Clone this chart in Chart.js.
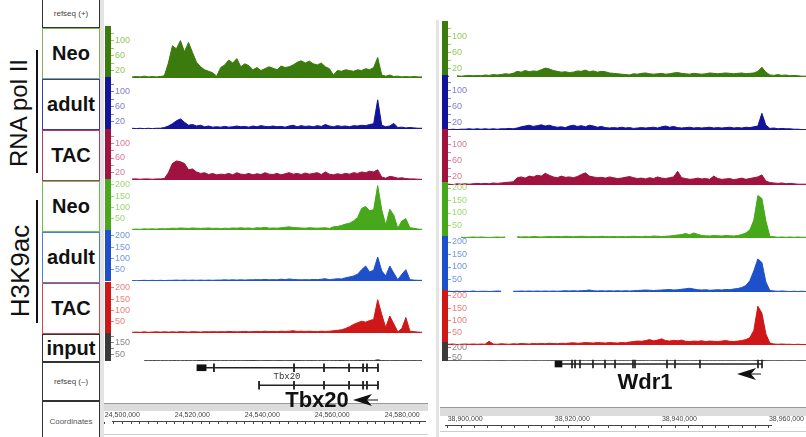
<!DOCTYPE html>
<html>
<head>
<meta charset="utf-8">
<title>Tbx20 / Wdr1 tracks</title>
<script src="https://cdn.jsdelivr.net/npm/chart.js@4.4.1/dist/chart.umd.min.js"></script>
<style>
  html, body { margin: 0; padding: 0; }
  body { width: 806px; height: 437px; position: relative; overflow: hidden; background: #fff;
         font-family: 'Liberation Sans', Arial, Helvetica, sans-serif; }
  canvas { position: absolute; }
  .box { position: absolute; left: 42px; width: 58px; box-sizing: border-box; border: 1.5px solid #333;
         background: #fff; display: flex; align-items: center; justify-content: center;
         font-weight: bold; font-size: 20px; color: #111; }
  .small { font-weight: normal; font-size: 8px; color: #444; }
  .rot { position: absolute; transform: translate(-50%, -50%) rotate(-90deg); white-space: nowrap; color: #111; }
  .bracket { position: absolute; left: 36px; width: 2px; background: #111; }
  .strip { position: absolute; background: #e4e4e4; }
  .big { position: absolute; font-weight: bold; font-size: 22px; color: #111; transform: translate(-50%, -50%); white-space: nowrap; }
</style>
</head>
<body>
<div class="rot" style="left:19px;top:113px;font-size:24px">RNA pol II</div>
<div class="bracket" style="top:50px;height:123px"></div>
<div class="rot" style="left:20px;top:271px;font-size:26px">H3K9ac</div>
<div class="bracket" style="top:200px;height:123px"></div>

<div class="strip" style="left:100px;top:0;width:4px;height:437px"></div>
<div class="strip" style="left:436px;top:20px;width:3px;height:417px"></div>

<div class="box small" style="top:-2px;height:30px">refseq (+)</div>
<div class="box" style="top:28px;height:51px;border-color:#86ad5c">Neo</div>
<div class="box" style="top:79px;height:51px;border-color:#3a3ab0">adult</div>
<div class="box" style="top:130px;height:51px;border-color:#b13a68">TAC</div>
<div class="box" style="top:181px;height:51px;border-color:#6cc04a">Neo</div>
<div class="box" style="top:232px;height:51px;border-color:#4a7fd6">adult</div>
<div class="box" style="top:283px;height:51px;border-color:#d64545">TAC</div>
<div class="box" style="top:334px;height:28px;border-color:#333">input</div>
<div class="box small" style="top:362px;height:39px">refseq (&ndash;)</div>
<div class="box small" style="top:401px;height:40px;color:#555">Coordinates</div>

<div class="strip" style="left:104px;top:403px;width:324px;height:7px;background:#dcdcdc;border-top:1px solid #999"></div>
<div class="strip" style="left:440px;top:407px;width:366px;height:8px;background:#dcdcdc;border-top:1px solid #999"></div>
<div class="strip" style="left:104px;top:434px;width:324px;height:1px;background:#ccc"></div>
<div class="strip" style="left:440px;top:431px;width:366px;height:1px;background:#ccc"></div>

<div id="charts"></div>

<div style="position:absolute;left:287px;top:377px;transform:translate(-50%,-50%);font-family:'Liberation Mono',monospace;font-size:9px;color:#333">Tbx20</div>
<div class="big" style="left:317px;top:400px">Tbx20</div>
<div class="big" style="left:645px;top:382px">Wdr1</div>
<svg style="position:absolute;left:0;top:0" width="806" height="437">
  <path d="M353 400 L372 394 L367 400 L372 406 Z" fill="#111"/>
  <line x1="362" y1="400" x2="378" y2="400" stroke="#111" stroke-width="1"/>
  <path d="M737 374 L756 368 L751 374 L756 380 Z" fill="#111"/>
  <line x1="746" y1="374" x2="761" y2="374" stroke="#111" stroke-width="1"/>
</svg>

<script>
// ---- signal values, left panel (Tbx20 locus), 80 bins ----
const polNeoL = [null,null,null,null,null,null, 3,4,3,5,3,4,3,4,6,
  40,86,78,100,70,95,68,42,30,22,18,14,5,
  28,35,48,40,52,30,38,33,22,28,20,25,30,26,22,32,28,30,35,42,46,40,45,38,35,40,30,25,
  8,20,18,22,20,18,22,20,25,22,28,55, 8,5,8,4,5,3,4,3,4,3,3, null];
const polAdultL = [null,null,null,null,null,null, 2,1,2,1,2,1,2,2,4,
  8,14,22,27,18,10,12,8,10,6,8,5,6,
  5,7,5,6,8,6,7,5,8,6,9,7,6,8,6,7,5,8,10,6,9,7,8,6,9,7,12,8,
  6,9,7,8,6,9,8,10,9,12,14,78, 10,6,8,15,4,5,3,4,3,2,2, null];
const polTacL = [null,null,null,null,null,null, 3,3,2,3,3,2,3,3,4,
  20,45,52,50,45,28,30,22,18,20,15,18,14,
  16,15,18,14,20,16,15,18,14,17,15,20,16,15,18,14,17,20,16,18,15,19,16,18,20,15,22,16,
  14,17,15,18,16,20,18,22,20,24,22,28, 8,5,10,8,5,6,4,3,3,2,2, null];
const h3NeoL = [null,null,null,null,null,null, 3,4,3,5,4,5,4,6,5,
  6,8,7,9,8,7,9,8,7,8,9,7,8,
  6,8,7,9,8,10,8,9,7,10,9,12,8,9,8,10,12,14,11,10,9,8,10,9,8,9,10,7,
  14,16,20,26,30,40,55,95,104,85,90,196, 90,22,92,65,8,40,50,10,8,4,3, null];
const h3AdultL = [null,null,null,null,null,null, 2,1,2,3,2,3,2,3,2,
  3,3,4,3,4,3,4,3,4,3,4,3,4,
  4,5,4,5,4,5,4,5,5,6,5,7,5,6,5,8,6,9,7,6,5,6,5,7,6,8,10,6,
  8,10,9,14,18,22,30,50,66,40,48,106, 45,22,66,35,6,30,50,6,4,3,3, null];
const h3TacL = [null,null,null,null,null,null, 3,4,3,5,3,4,5,4,5,
  4,5,4,6,5,4,6,5,4,6,5,6,5,
  6,5,7,6,5,6,7,5,6,7,6,8,6,7,6,8,7,8,10,7,8,7,8,7,6,8,7,8,
  10,12,14,20,28,38,45,52,48,55,60,147, 82,24,75,40,5,20,68,8,6,4,3, null];
const inputL = [null,null,null,null,null,null,null,null,null,
  3,2,3,3,2,3,2,3,3,2, 3,3,2,3,4,3,2,3,3,2, 3,2,3,3,2,3,3,4,3,2,
  3,3,2,3,3,2,3,3,4,3, 2,3,3,2,3,3,2,3,3,4, 3,2,3,3,4,3,3,3,10,3,
  3,2,3,3,2,3,2,3,2,3, null];

// ---- signal values, right panel (Wdr1 locus), 91 bins ----
const polNeoR = [3,2,null,3,2,3,4,3,4,3, 5,4,6,5,6,8,7,9,14,12, 16,13,15,14,18,22,20,16,14,12,
  13,11,12,15,14,17,13,15,12,14, 13,10,9,8,7,6,5,8,7,9, 10,8,7,8,9,7,8,10,11,9,
  8,7,9,8,7,8,10,9,8,9, 10,9,8,9,10,8,9,10,14,24, 12,5,4,6,4,5,3,4,3,2,2];
const polAdultR = [2,1,2,1,2,2,3,2,3,2, 3,2,3,2,3,3,4,3,5,8, 10,12,9,11,13,10,12,9,7,8,
  6,10,12,9,11,8,12,10,7,9, 6,5,6,5,7,5,6,4,5,6, 5,6,7,5,8,10,7,9,6,5,
  6,7,5,6,5,6,7,5,6,5, 6,7,5,6,5,7,6,8,10,42, 12,4,5,3,4,3,3,2,2,1,1];
const polTacR = [2,2,1,3,2,3,2,3,4,3, 4,3,5,4,5,6,7,8,18,20, 17,22,20,24,22,29,24,20,18,22,
  19,20,18,21,26,30,22,20,18,19, 17,20,18,16,17,19,21,18,16,17, 15,18,16,20,17,16,18,20,34,18,
  16,14,15,17,15,16,14,22,16,14, 15,16,13,15,17,14,16,18,20,25, 10,6,5,4,5,3,4,3,2,2,2];
const h3NeoR = [null,null,null,null,3,2,3,4,3,4, 3,2,3,4,3,4,null,null,5,4, 5,4,6,5,4,5,6,5,6,5,
  7,6,5,6,7,6,5,6,5,7, 6,5,6,5,6,5,6,7,6,5, 7,6,8,7,6,7,8,10,12,14,
  18,13,20,15,10,9,8,10,9,8, 10,9,8,10,14,20,32,72,170,158, 68,6,5,3,4,3,4,3,4,3,3];
const h3AdultR = [2,3,2,3,2,3,2,4,2,3, 3,2,3,4,3,null,null,3,3,4, 3,4,3,4,3,4,3,4,3,4,
  5,4,5,4,5,6,8,5,4,5, 4,5,4,5,4,5,4,5,6,7, 8,7,6,7,8,9,10,8,9,11,
  13,15,12,9,8,9,7,8,9,8, 10,9,12,14,18,26,45,85,132,118, 40,6,4,3,4,3,2,3,2,3,2];
const h3TacR = [2,3,4,2,3,4,3,4,3,4, 3,15,4,3,5,4,3,5,4,6, 5,4,6,5,6,5,7,6,5,7,
  6,8,9,7,8,10,9,8,10,9, 8,10,9,8,10,9,12,14,16,15, 18,22,17,20,25,18,16,19,17,20,
  15,14,16,15,17,14,16,15,14,16, 18,15,14,16,18,22,30,60,158,130, 45,8,4,3,4,3,3,2,3,2,2];
const inputR = [3,2,3,3,2,3,2,3,3,2, 3,3,2,3,4,3,2,3,3,2, 3,2,3,3,2,3,3,4,3,2,
  3,3,2,3,3,2,3,3,4,3, 2,3,3,2,3,3,2,3,3,4, 3,2,3,3,4,3,3,3,2,3,
  3,2,3,3,2,3,2,3,2,3, 2,3,3,2,3,3,2,3,6,8, 4,3,2,3,3,2,3,2,3,3,2];

// data-range ticks (labelled ones listed separately)
const polTicks = [20, 40, 60, 80, 100, 120];
const polLabels = [20, 60, 100];
const h3Ticks = [50, 100, 150, 200];
const inputTicksL = [50, 100, 150, 200];
const inputLabelsL = [50, 150];
const inputTicksR = [50, 200];

// genome windows and ruler labels
const leftWindow = [24502250, 24591830];
const rightWindow = [38899494, 38960422];
const leftRuler = [24500000, 24520000, 24540000, 24560000, 24580000];
const rightRuler = [38900000, 38920000, 38940000, 38960000];

// gene models (genomic coordinates)
const tbxRows = ['NM_1', 'NM_2'];
const tbxIntrons = [[24529900, 24578300], [24544800, 24578300]];
const tbxUtr = [[24527300, 24529900]];
const tbxExons1 = [24532100, 24554650, 24563100, 24570150, 24574100, 24575200, 24578300];
const tbxExons2 = [24544800, 24554650, 24563100, 24570150, 24574100, 24575200, 24578300];
const wdrRows = ['NM_1'];
const wdrIntrons = [[38919240, 38953000]];
const wdrUtr = [[38918060, 38919240]];
const wdrExons = [38920930, 38921440, 38922280, 38924470, 38926500, 38928190, 38931220,
  38931560, 38936960, 38938310, 38942530, 38952320, 38953000];

Chart.defaults.font.family = "'Liberation Sans', Arial, sans-serif";

const holder = document.getElementById('charts');
function makeCanvas(left, top, w, h) {
  const cv = document.createElement('canvas');
  cv.width = w; cv.height = h;
  cv.style.left = left + 'px'; cv.style.top = top + 'px';
  cv.style.width = w + 'px'; cv.style.height = h + 'px';
  holder.appendChild(cv);
  return cv;
}

const baseOpts = { responsive: false, animation: false, events: [], devicePixelRatio: 1,
  plugins: { legend: { display: false }, tooltip: { enabled: false } } };

function trackChart(left, width, row, values, t) {
  const pad = 6;
  const cv = makeCanvas(left, row[0] - pad, width, row[1] - row[0] + pad);
  new Chart(cv, {
    type: 'line',
    data: {
      labels: values.map((_, i) => i),
      datasets: [{ data: values, borderColor: t.color, backgroundColor: t.color, fill: 'origin',
        borderWidth: 1, pointRadius: 0, tension: 0, spanGaps: false }]
    },
    options: { ...baseOpts,
      layout: { padding: { top: pad, left: 0, right: 0, bottom: 0 } },
      scales: {
        x: { display: false },
        y: { min: 0, max: t.max, position: 'left',
          afterFit: ax => { ax.width = 4; ax.paddingTop = 0; ax.paddingBottom = 0; },
          afterBuildTicks: ax => { ax.ticks = t.ticks.map(v => ({ value: v })); },
          border: { color: t.color, width: 6 },
          grid: { drawOnChartArea: false, drawTicks: true, tickLength: -6, color: t.light },
          ticks: { mirror: true, padding: 7, autoSkip: false, z: 1, color: t.light,
            font: { size: 9 }, callback: v => t.labels.includes(v) ? String(v) : '' } }
      }
    }
  });
}

const styles = [
  { color: '#3b7a0c', light: '#93c95f', max: 131, ticks: polTicks, labels: polLabels },
  { color: '#13139a', light: '#7c7cd9', max: 131, ticks: polTicks, labels: polLabels },
  { color: '#a0123f', light: '#d9779a', max: 131, ticks: polTicks, labels: polLabels },
  { color: '#46a81a', light: '#9ed774', max: 212, ticks: h3Ticks, labels: h3Ticks },
  { color: '#1e50cc', light: '#7396e6', max: 212, ticks: h3Ticks, labels: h3Ticks },
  { color: '#d01717', light: '#ec7d7d', max: 212, ticks: h3Ticks, labels: h3Ticks }
];
const inputStyleL = { color: '#3a3a3a', light: '#888', max: 200, ticks: inputTicksL, labels: inputLabelsL };
const inputStyleR = { color: '#3a3a3a', light: '#888', max: 235, ticks: inputTicksR, labels: inputTicksR };

const leftRows = [[29, 78], [80, 129], [132, 180], [182, 230], [233, 281], [285, 333], [336, 361]];
const rightRows = [[24, 77], [78, 130], [132, 185], [185, 238], [239, 292], [293, 345], [345, 361]];
const leftData = [polNeoL, polAdultL, polTacL, h3NeoL, h3AdultL, h3TacL];
const rightData = [polNeoR, polAdultR, polTacR, h3NeoR, h3AdultR, h3TacR];

leftData.forEach((d, k) => trackChart(104, 322, leftRows[k], d, styles[k]));
trackChart(104, 322, leftRows[6], inputL, inputStyleL);
rightData.forEach((d, k) => trackChart(441, 365, rightRows[k], d, styles[k]));
trackChart(441, 365, rightRows[6], inputR, inputStyleR);

function geneChart(left, top, width, height, win, rows, introns, utr, exons, half) {
  const cv = makeCanvas(left, top, width, height);
  const ex = [];
  exons.forEach((list, k) => list.forEach(g => ex.push({ x: [g - half, g + half], y: rows[k] })));
  new Chart(cv, {
    type: 'bar',
    data: {
      labels: rows,
      datasets: [
        { data: introns.map((r, k) => ({ x: r, y: rows[k] })), backgroundColor: '#222', barThickness: 1, grouped: false },
        { data: utr.map(r => ({ x: r, y: rows[0] })), backgroundColor: '#111', barThickness: 6, grouped: false },
        { data: ex, backgroundColor: '#222', barThickness: 8, grouped: false }
      ]
    },
    options: { ...baseOpts, indexAxis: 'y',
      scales: {
        x: { type: 'linear', min: win[0], max: win[1], display: false },
        y: { display: false }
      }
    }
  });
}
geneChart(108, 359, 318, 35, leftWindow, tbxRows, tbxIntrons, tbxUtr, [tbxExons1, tbxExons2], 170);
geneChart(445, 356, 361, 16, rightWindow, wdrRows, wdrIntrons, wdrUtr, [wdrExons], 90);

function rulerChart(left, padLeft, top, width, win, majors, minorStep) {
  const cv = makeCanvas(left, top, width, 16);
  new Chart(cv, {
    type: 'scatter',
    data: { datasets: [{ data: [] }] },
    options: { ...baseOpts,
      layout: { padding: { left: padLeft, right: 0, top: 0, bottom: 0 } },
      scales: {
        x: { type: 'linear', position: 'top', min: win[0], max: win[1],
          afterFit: ax => { ax.height = 13; },
          afterBuildTicks: ax => {
            const t = [];
            for (let v = majors[0]; v <= win[1]; v += minorStep) t.push({ value: v });
            ax.ticks = t;
          },
          border: { color: '#444', width: 1 },
          grid: { drawTicks: false, color: '#444', lineWidth: 1 },
          ticks: { autoSkip: false, maxRotation: 0, minRotation: 0, align: 'start', padding: 2,
            color: '#444', font: { size: 7 },
            callback: v => majors.includes(v) ? v.toLocaleString('en-US') : '' } },
        y: { display: false, min: 0, max: 1 }
      }
    }
  });
}
rulerChart(103, 5, 408, 323, leftWindow, leftRuler, 2500);
rulerChart(441, 4, 412, 365, rightWindow, rightRuler, 2500);
</script>
</body>
</html>
